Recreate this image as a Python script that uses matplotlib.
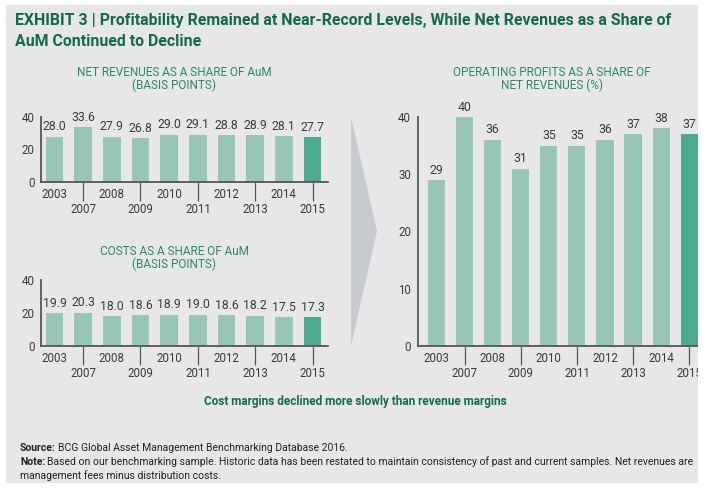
import matplotlib
matplotlib.use('Agg')
import matplotlib.pyplot as plt
from matplotlib.patches import Rectangle, Polygon

# 데이터
years = ['2003', '2007', '2008', '2009', '2010', '2011', '2012', '2013', '2014', '2015']
net_revenues = [28.0, 33.6, 27.9, 26.8, 29.0, 29.1, 28.8, 28.9, 28.1, 27.7]
costs = [19.9, 20.3, 18.0, 18.6, 18.9, 19.0, 18.6, 18.2, 17.5, 17.3]
op_profits = [29, 40, 36, 31, 35, 35, 36, 37, 38, 37]

W, H = 710, 501
BG = '#e7e7e9'
LIGHT = '#97c6b4'
DARK = '#4baa8f'
GREEN = '#136b46'
GREEN2 = '#2b8a61'
TXT = '#3a3a3a'
AXC = '#555555'

plt.rcParams['font.family'] = ['Roboto', 'DejaVu Sans']

fig = plt.figure(figsize=(W / 100, H / 100), dpi=100)
fig.patch.set_facecolor('white')
renderer = fig.canvas.get_renderer()


def fx(x):
    return x / W


def fy(y):
    return 1 - y / H


def px_axes(x0, y0, x1, y1):
    # 픽셀 좌표로 axes 위치 지정
    return fig.add_axes([fx(x0), fy(y1), (x1 - x0) / W, (y1 - y0) / H])


def fit_text(x, y, s, width_px, **kw):
    # 원본 글자폭에 맞게 글자크기 조정
    t = fig.text(fx(x), fy(y), s, fontsize=10, **kw)
    w = t.get_window_extent(renderer=renderer).width
    t.set_fontsize(10 * width_px / w)
    return t


# 회색 배경
fig.add_artist(Rectangle((fx(6), fy(483)), (698 - 6) / W, (483 - 5) / H,
                         transform=fig.transFigure, facecolor=BG, edgecolor='none', zorder=-10))

# 가운데 화살표
fig.add_artist(Polygon([(fx(351), fy(117)), (fx(377), fy(231)), (fx(351), fy(346))],
                       closed=True, transform=fig.transFigure, facecolor='#c8cbce',
                       edgecolor='none', zorder=-5))


def draw_bars(ax, values, fmt, xlim, ylim, yticks, ypad):
    n = len(values)
    x = list(range(n))
    colors = [LIGHT] * (n - 1) + [DARK]
    ax.bar(x, values, width=0.61, color=colors, zorder=2)
    for i, v in enumerate(values):
        ax.annotate(fmt.format(v), (i, v), xytext=(0, 2.5), textcoords='offset points',
                    ha='center', va='bottom', fontsize=8.8, color=TXT)
    ax.set_facecolor('none')
    ax.set_xlim(*xlim)
    ax.set_ylim(*ylim)
    for s in ['top', 'right']:
        ax.spines[s].set_visible(False)
    for s in ['left', 'bottom']:
        ax.spines[s].set_color(AXC)
        ax.spines[s].set_linewidth(1.3)
    ax.set_xticks(x[0::2], years[0::2])
    ax.set_xticks(x[1::2], years[1::2], minor=True)
    ax.tick_params(axis='x', which='major', length=0, pad=4, labelsize=8.3, labelcolor=TXT)
    ax.tick_params(axis='x', which='minor', length=14, width=0.9, color=AXC, pad=1,
                   labelsize=8.3, labelcolor=TXT)
    ax.set_yticks(yticks)
    ax.tick_params(axis='y', length=0, pad=ypad, labelsize=8.3, labelcolor=TXT)


# 왼쪽 위: 순수익
ax1 = px_axes(41, 117, 328, 182)
draw_bars(ax1, net_revenues, '{:.1f}', (-0.47, 9.54), (0, 40), [0, 20, 40], 4.5)

# 왼쪽 아래: 비용
ax2 = px_axes(41, 280, 328, 346)
draw_bars(ax2, costs, '{:.1f}', (-0.47, 9.54), (0, 40), [0, 20, 40], 4.5)

# 오른쪽: 영업이익
ax3 = px_axes(418, 117, 706, 346)
draw_bars(ax3, op_profits, '{:d}', (-0.66, 9.6), (0, 40), [0, 10, 20, 30, 40], 5)

# 차트 제목
ct = dict(ha='center', va='center', color=GREEN2)
t = fit_text(174, 73, 'NET REVENUES AS A SHARE OF AuM', 195, **ct)
cs = t.get_fontsize()
fig.text(fx(174), fy(85), '(BASIS POINTS)', fontsize=cs, **ct)
fig.text(fx(174), fy(252), 'COSTS AS A SHARE OF AuM', fontsize=cs, **ct)
fig.text(fx(174), fy(264), '(BASIS POINTS)', fontsize=cs, **ct)
fig.text(fx(552), fy(72), 'OPERATING PROFITS AS A SHARE OF', fontsize=cs, **ct)
fig.text(fx(552), fy(85), 'NET REVENUES (%)', fontsize=cs, **ct)

# 큰 제목
t = fit_text(15, 20, 'EXHIBIT 3 | Profitability Remained at Near-Record Levels, While Net Revenues as a Share of',
             657, ha='left', va='center', fontweight='bold', color=GREEN)
fig.text(fx(15), fy(42), 'AuM Continued to Decline', ha='left', va='center',
         fontsize=t.get_fontsize(), fontweight='bold', color=GREEN)

fit_text(355, 402, 'Cost margins declined more slowly than revenue margins', 304,
         ha='center', va='center', fontweight='bold', color=GREEN)

# 출처 / 주석 (굵은 머리말 + 보통 글씨)
note_rest = ('Based on our benchmarking sample. Historic data has been restated to maintain '
             'consistency of past and current samples. Net revenues are')
probe = fig.text(0, 0, 'Note: ' + note_rest, fontsize=10)
fs = 10 * 672 / probe.get_window_extent(renderer=renderer).width
probe.remove()


def bold_lead(x, y, lead, rest):
    t = fig.text(fx(x), fy(y), lead, ha='left', va='center', fontsize=fs,
                 fontweight='bold', color='#222222')
    bb = t.get_window_extent(renderer=renderer)
    fig.text(fx(x) + (bb.width + 2) / W, fy(y), rest, ha='left', va='center',
             fontsize=fs, color='#222222')


bold_lead(20, 448, 'Source:', 'BCG Global Asset Management Benchmarking Database 2016.')
bold_lead(20, 462, 'Note:', note_rest)
fig.text(fx(20), fy(476), 'management fees minus distribution costs.', ha='left', va='center',
         fontsize=fs, color='#222222')

# 가장자리 흰색 (오른쪽 차트 잘림 표현)
fig.add_artist(Rectangle((fx(698), 0), (W - 698) / W, 1, transform=fig.transFigure,
                         facecolor='white', edgecolor='none', zorder=10))

fig.savefig('out.png', dpi=100, facecolor='white')
